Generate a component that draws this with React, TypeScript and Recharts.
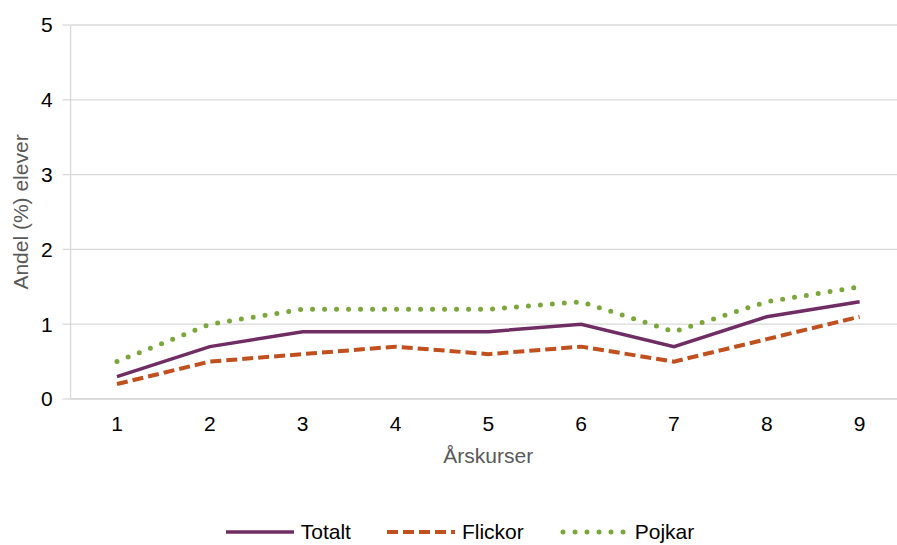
import React from 'react';
import { LineChart, Line, XAxis, YAxis, CartesianGrid } from 'recharts';

const GRADES = ['1', '2', '3', '4', '5', '6', '7', '8', '9'];
const TOTALT = [0.3, 0.7, 0.9, 0.9, 0.9, 1.0, 0.7, 1.1, 1.3];
const FLICKOR = [0.2, 0.5, 0.6, 0.7, 0.6, 0.7, 0.5, 0.8, 1.1];
const POJKAR = [0.5, 1.0, 1.2, 1.2, 1.2, 1.3, 0.9, 1.3, 1.5];
const Y_TICKS = [0, 1, 2, 3, 4, 5];

const SERIES = [
    { key: 'Totalt', color: '#702D63', dash: undefined, cap: 'butt', width: 3.5 },
    { key: 'Flickor', color: '#C0501E', dash: '11 5', cap: 'butt', width: 4 },
    { key: 'Pojkar', color: '#7BA63A', dash: '0 12', cap: 'round', width: 5 },
];

const data = GRADES.map((g, i) => ({ grade: g, Totalt: TOTALT[i], Flickor: FLICKOR[i], Pojkar: POJKAR[i] }));

const FONT = 'Liberation Sans, Arial, sans-serif';

// legend sits under the chart, centred a bit left of the plot like the original
const ChartLegend = () => (
    <div style={{ position: 'absolute', left: 0, width: 920, top: 519, display: 'flex', justifyContent: 'center', alignItems: 'center', fontFamily: FONT, fontSize: 21, lineHeight: '26px', color: '#000' }}>
        {SERIES.map((s) => (
            <div key={s.key} style={{ display: 'flex', alignItems: 'center', margin: '0 18px' }}>
                <svg width={68} height={10} style={{ marginRight: 7 }}>
                    <line x1={s.cap === 'round' ? 3 : 0} x2={s.cap === 'round' ? 66 : 68} y1={5} y2={5} stroke={s.color} strokeWidth={s.width} strokeDasharray={s.dash} strokeLinecap={s.cap as 'butt' | 'round'} />
                </svg>
                <span>{s.key}</span>
            </div>
        ))}
    </div>
);

export default function App() {
    return (
        <div style={{ position: 'fixed', left: 0, top: 0, width: 897, height: 545, background: '#fff', overflow: 'hidden' }}>
            <LineChart width={906} height={545} data={data} margin={{ top: 25, right: 0, bottom: 0, left: 0 }}>
                <CartesianGrid vertical={false} stroke="#D9D9D9" strokeWidth={1.3} />
                <XAxis
                    dataKey="grade"
                    padding={{ left: 46.4, right: 46.4 }}
                    height={146}
                    stroke="#D9D9D9"
                    strokeWidth={1.3}
                    tickLine={false}
                    tickMargin={11}
                    tick={{ fill: '#000', fontSize: 21, fontFamily: FONT }}
                    label={{ value: 'Årskurser', position: 'insideTop', offset: 49, fill: '#595959', fontSize: 21, fontFamily: FONT }}
                />
                <YAxis
                    domain={[0, 5]}
                    ticks={Y_TICKS}
                    width={70.6}
                    stroke="#D9D9D9"
                    strokeWidth={1.3}
                    tickSize={8}
                    tickMargin={10}
                    tick={{ fill: '#000', fontSize: 21, fontFamily: FONT }}
                    label={{ value: 'Andel (%) elever', angle: -90, position: 'insideLeft', offset: 21, fill: '#595959', fontSize: 21, fontFamily: FONT, style: { textAnchor: 'middle' } }}
                />
                {SERIES.map((s) => (
                    <Line
                        key={s.key}
                        type="linear"
                        dataKey={s.key}
                        stroke={s.color}
                        strokeWidth={s.width}
                        strokeDasharray={s.dash}
                        strokeLinecap={s.cap as 'butt' | 'round'}
                        dot={false}
                        activeDot={false}
                        isAnimationActive={false}
                    />
                ))}
            </LineChart>
            <ChartLegend />
        </div>
    );
}
